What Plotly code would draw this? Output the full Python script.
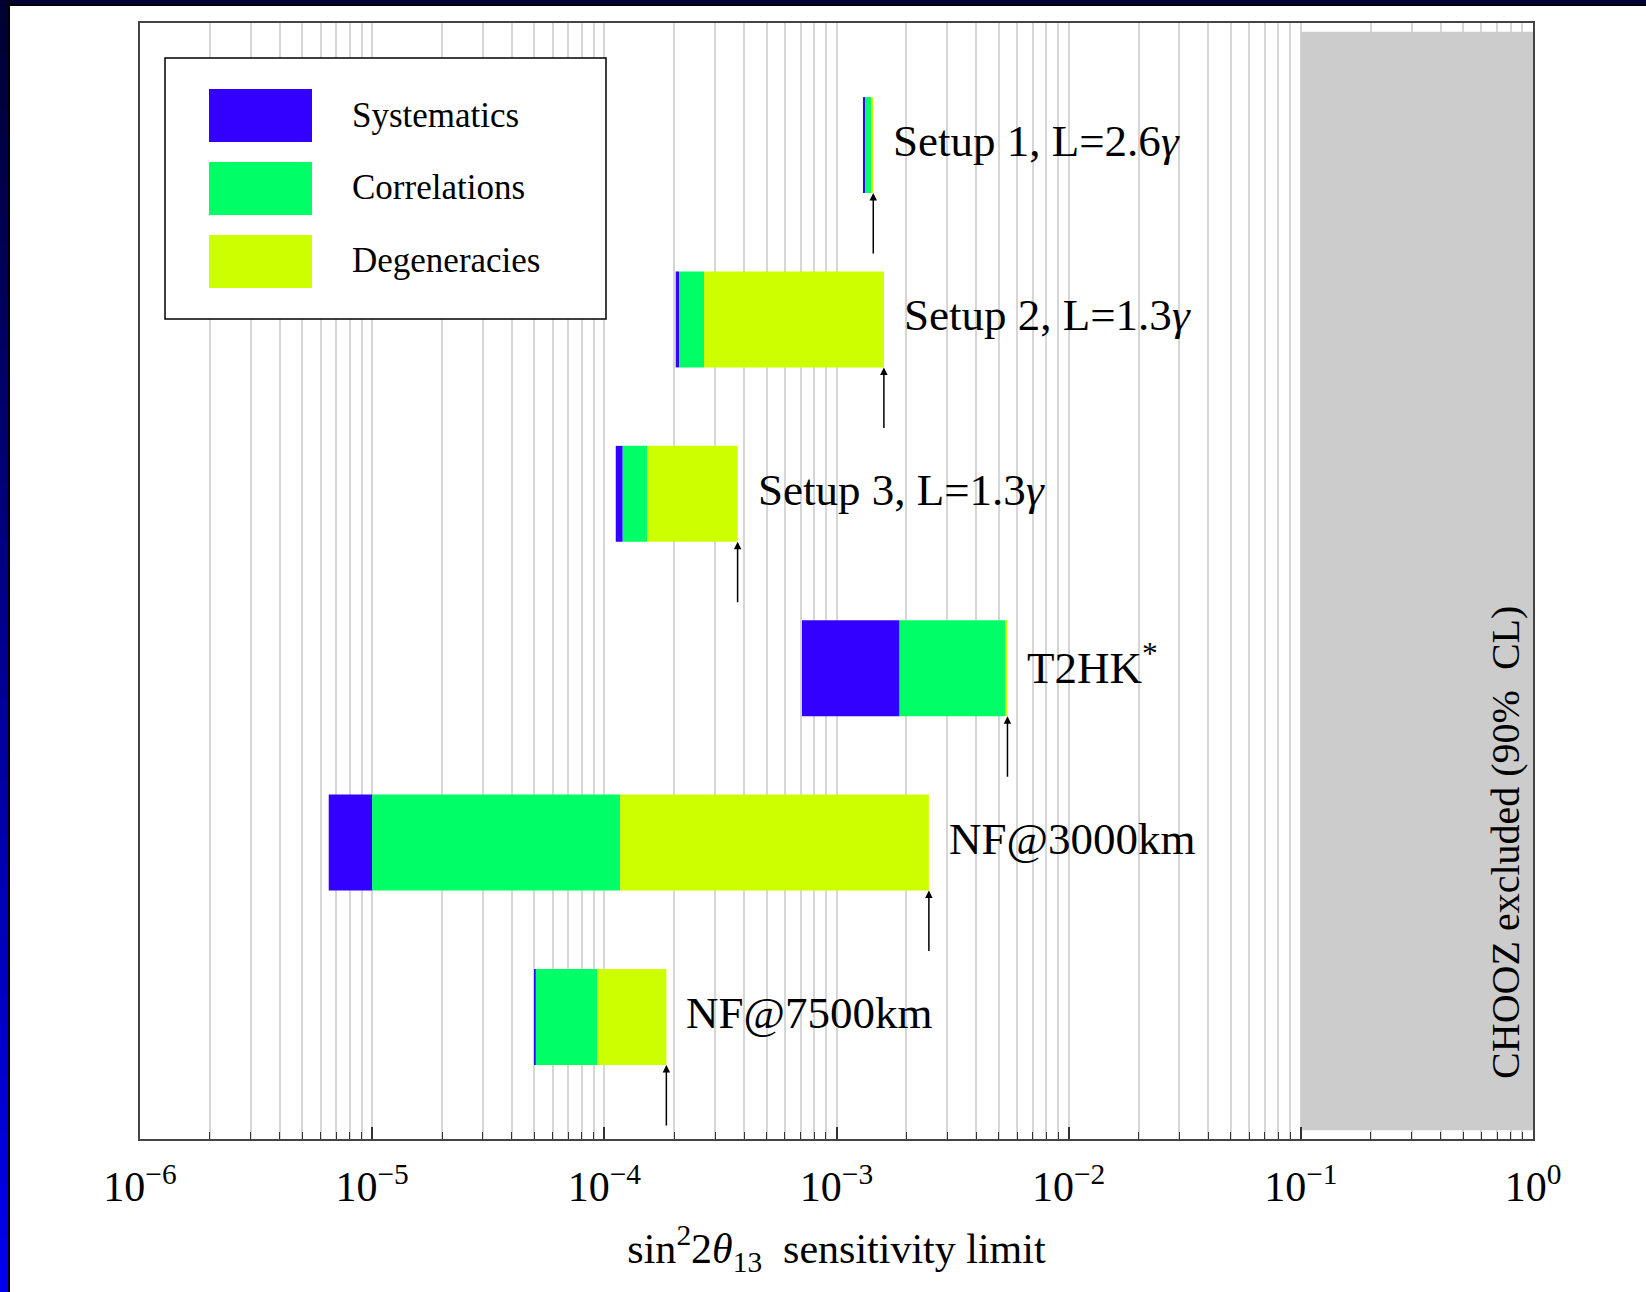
import math
import plotly.graph_objects as go

# ---- data -------------------------------------------------------------
configs = ["Setup 1, L=2.6<i>γ</i>", "Setup 2, L=1.3<i>γ</i>", "Setup 3, L=1.3<i>γ</i>",
           "T2HK<sup>*</sup>", "NF@3000km", "NF@7500km"]
row_pos = [6, 5, 4, 3, 2, 1]

# sin^2 2theta13 limits after successively switching on each effect
stat_only = [1.30e-3, 2.03e-4, 1.12e-4, 7.10e-4, 6.5e-6, 5.02e-5]
with_syst = [1.33e-3, 2.10e-4, 1.20e-4, 1.87e-3, 1.0e-5, 5.06e-5]
with_corr = [1.41e-3, 2.69e-4, 1.53e-4, 5.35e-3, 1.17e-4, 9.35e-5]
with_degen = [1.44e-3, 1.60e-3, 3.75e-4, 5.45e-3, 2.50e-3, 1.85e-4]

effects = ["Systematics", "Correlations", "Degeneracies"]
effect_colors = ["#3300ff", "#00ff66", "#ccff00"]

chooz_limit = [0.1, 1.0]

tick_vals = [1e-6, 1e-5, 1e-4, 1e-3, 1e-2, 1e-1, 1e0]
tick_text = ["10<sup>−6</sup>", "10<sup>−5</sup>", "10<sup>−4</sup>", "10<sup>−3</sup>",
             "10<sup>−2</sup>", "10<sup>−1</sup>", "10<sup>0</sup>"]

# ---- layout geometry --------------------------------------------------
W, H = 1646, 1292
L, R, T, B = 140, 113, 23, 153
PW, PH = W - L - R, H - T - B
FONT = "Liberation Serif"
BAR_W = 0.55


def px(x):
    return (x - L) / PW


def py(y):
    return (H - B - y) / PH


fig = go.Figure()

bounds = [stat_only, with_syst, with_corr, with_degen]
for k, (name, col) in enumerate(zip(effects, effect_colors)):
    lo, hi = bounds[k], bounds[k + 1]
    fig.add_trace(go.Bar(
        orientation="h", y=row_pos, base=lo,
        x=[h - l for l, h in zip(lo, hi)],
        width=BAR_W, marker=dict(color=col, line=dict(width=0)),
        name=name, showlegend=False,
    ))

annotations = []
for label, yy, xv in zip(configs, row_pos, with_degen):
    # final sensitivity arrow below each bar
    annotations.append(dict(
        x=math.log10(xv), y=yy - BAR_W / 2, xref="x", yref="y",
        ax=0, ay=62, showarrow=True, arrowhead=2, arrowsize=1.0,
        arrowwidth=1.5, arrowcolor="black", standoff=0, text="",
    ))
    annotations.append(dict(
        x=math.log10(xv), y=yy, xref="x", yref="y", xshift=18, yshift=4,
        xanchor="left", yanchor="middle", showarrow=False, text=label,
        font=dict(family=FONT, size=45, color="black"),
    ))

annotations.append(dict(
    x=math.log10(0.76), y=2.0, xref="x", yref="y", textangle=-90,
    showarrow=False, text="CHOOZ excluded (90%  CL)",
    font=dict(family=FONT, size=40, color="black"),
))

shapes = []
# excluded region
shapes.append(dict(type="rect", xref="x", yref="y", x0=chooz_limit[0], x1=chooz_limit[1],
                   y0=0.35, y1=6.65, fillcolor="#cccccc", line=dict(width=0), layer="between"))

# legend box
shapes.append(dict(type="rect", xref="paper", yref="paper", x0=px(165), x1=px(606),
                   y0=py(319), y1=py(58), fillcolor="white",
                   line=dict(color="black", width=1.5), layer="above"))
sw_tops = [89, 162, 235]
for name, col, top in zip(effects, effect_colors, sw_tops):
    shapes.append(dict(type="rect", xref="paper", yref="paper", x0=px(209), x1=px(312),
                       y0=py(top + 53), y1=py(top), fillcolor=col, line=dict(width=0),
                       layer="above"))
    annotations.append(dict(
        x=px(350), y=py(top + 26), xref="paper", yref="paper", xanchor="left",
        yanchor="middle", showarrow=False, text=name,
        font=dict(family=FONT, size=35, color="black"),
    ))

# page frame: dark band on top and a shaded band on the left
shapes.append(dict(type="rect", xref="paper", yref="paper", x0=px(0), x1=px(W),
                   y0=py(5), y1=py(0), fillcolor="#000033", line=dict(width=0)))
shapes.append(dict(type="rect", xref="paper", yref="paper", x0=px(0), x1=px(W),
                   y0=py(6), y1=py(4), fillcolor="#000000", line=dict(width=0)))
n_band = 48
for i in range(n_band):
    t = i / (n_band - 1)
    r, g, b = 0, 0, int(0x33 + (0xee - 0x33) * t)
    y0 = H * i / n_band
    y1 = H * (i + 1) / n_band + 1
    shapes.append(dict(type="rect", xref="paper", yref="paper", x0=px(0), x1=px(8),
                       y0=py(y1), y1=py(y0), fillcolor=f"rgb({r},{g},{b})",
                       line=dict(width=0)))
shapes.append(dict(type="rect", xref="paper", yref="paper", x0=px(8), x1=px(10),
                   y0=py(H), y1=py(0), fillcolor="#000000", line=dict(width=0)))

minor_vals = [m * 10 ** e for e in range(-6, 0) for m in range(2, 10)]

fig.update_layout(
    width=W, height=H,
    margin=dict(l=L, r=R, t=T, b=B),
    paper_bgcolor="white", plot_bgcolor="white",
    barmode="overlay", showlegend=False,
    shapes=shapes, annotations=annotations,
    font=dict(family=FONT, color="black"),
)
fig.update_xaxes(
    type="log", range=[-6, 0],
    tickmode="array", tickvals=tick_vals, ticktext=tick_text,
    tickfont=dict(family=FONT, size=42, color="black"),
    ticks="inside", ticklen=12, tickwidth=1.5, tickcolor="#333",
    ticklabelstandoff=10,
    showgrid=True, gridcolor="#d6d6d6", gridwidth=1.5,
    minor=dict(tickmode="array", tickvals=minor_vals, ticks="inside", ticklen=7,
               tickwidth=1.2, tickcolor="#333", showgrid=True,
               gridcolor="#d6d6d6", gridwidth=1.5),
    showline=True, linecolor="#444", linewidth=2, mirror=True,
    zeroline=False,
    title=dict(text="sin<sup>2</sup>2<i>θ</i><sub>13</sub>  sensitivity limit",
               font=dict(family=FONT, size=42, color="black"), standoff=24),
)
fig.update_yaxes(
    range=[0.3, 6.7], showticklabels=False, ticks="", showgrid=False,
    zeroline=False, showline=True, linecolor="#444", linewidth=2, mirror=True,
)

fig.write_html("out.html")
